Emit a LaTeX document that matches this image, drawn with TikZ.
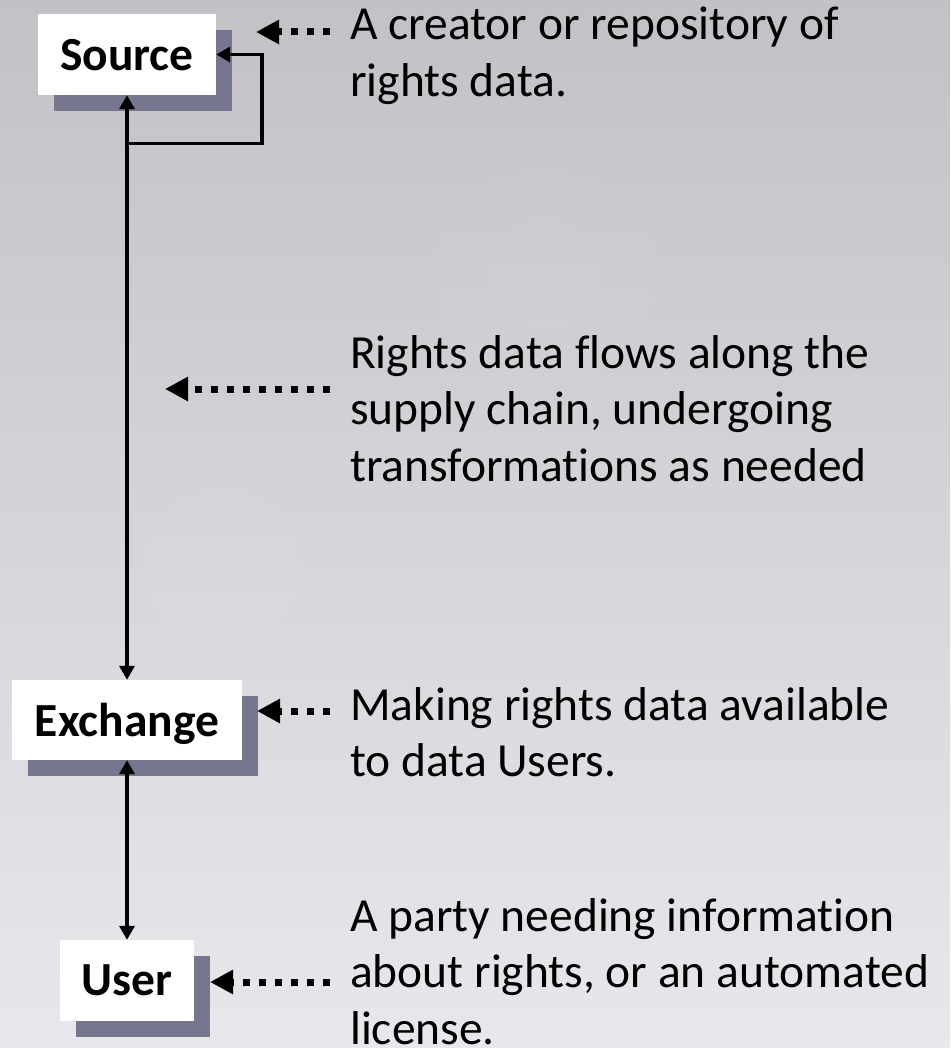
\documentclass[tikz,border=0pt]{standalone}
\usepackage{fontspec}
\setmainfont{Carlito}[Ligatures=CommonOff]
\usetikzlibrary{arrows.meta,shadows}
\definecolor{bgtop}{HTML}{C3C1C6}
\definecolor{bgbot}{HTML}{E8E7EC}
\definecolor{boxshadow}{HTML}{76768E}
\begin{document}
\begin{tikzpicture}[x=1pt,y=-1pt,
  box/.style={fill=white, inner sep=0pt, text depth=0pt,
    font=\fontsize{47.5}{56.5}\selectfont\bfseries,
    drop shadow={shadow xshift=15.5pt, shadow yshift=-16pt, fill=boxshadow, opacity=1}},
  desc/.style={inner sep=0pt, anchor=base west, font=\fontsize{47.5}{56.5}\selectfont},
  link/.style={line width=3.5pt},
  conn/.style={link, {Triangle[length=14pt,width=15pt]}-{Triangle[length=14pt,width=15pt]}},
  dotarrow/.style={line width=7pt, dash pattern=on 7pt off 9pt, -{Triangle[length=23pt,width=23pt]}}]

% page and soft background
\useasboundingbox (0,0) rectangle (950,1048);
\shade[top color=bgtop, bottom color=bgbot] (0,0) rectangle (950,1048);
\fill[white, opacity=0.035] (545,275) circle[radius=110];
\fill[white, opacity=0.025] (545,275) circle[radius=55];
\fill[white, opacity=0.04] (222,568) circle[radius=78];

% the three parties
\node[box, minimum width=178pt, minimum height=81pt] (src) at (127,54.5) {Source};
\node[box, minimum width=230pt, minimum height=80pt] (exc) at (127,720) {Exchange};
\node[box, minimum width=134pt, minimum height=81pt] (usr) at (127,980.5) {User};

% explanations
\node[desc] (t1) at (350,40) {\vtop{\hbox{A creator or repository of}\hbox{rights data.}}};
\node[desc] (t2) at (350,368) {\vtop{\hbox{Rights data flows along the}\hbox{supply chain, undergoing}\hbox{transformations as needed}}};
\node[desc] (t3) at (350,720) {\vtop{\hbox{Making rights data available}\hbox{to data Users.}}};
\node[desc] (t4) at (350,931) {\vtop{\hbox{A party needing information}\hbox{about rights, or an automated}\hbox{license.}}};

% data flow
\draw[conn] (src.south) -- (exc.north);
\draw[conn] (exc.south) -- (usr.north);
\draw[link, -{Triangle[length=14pt,width=15pt]}]
  ([yshift=-48.5pt]src.south) -| ([xshift=46pt]src.east) -- (src.east);

% pointers from the explanations
\draw[dotarrow] ([xshift=-20pt,yshift=8pt]t1.base west) -- ++(-74,0);
\draw[dotarrow] ([xshift=-20pt,yshift=-21pt]t2.base west) -- ++(-165,0);
\draw[dotarrow] ([xshift=-20pt,yshift=9pt]t3.base west) -- ++(-73,0);
\draw[dotarrow] ([xshift=-20pt,yshift=-51pt]t4.base west) -- ++(-120,0);
\end{tikzpicture}
\end{document}
